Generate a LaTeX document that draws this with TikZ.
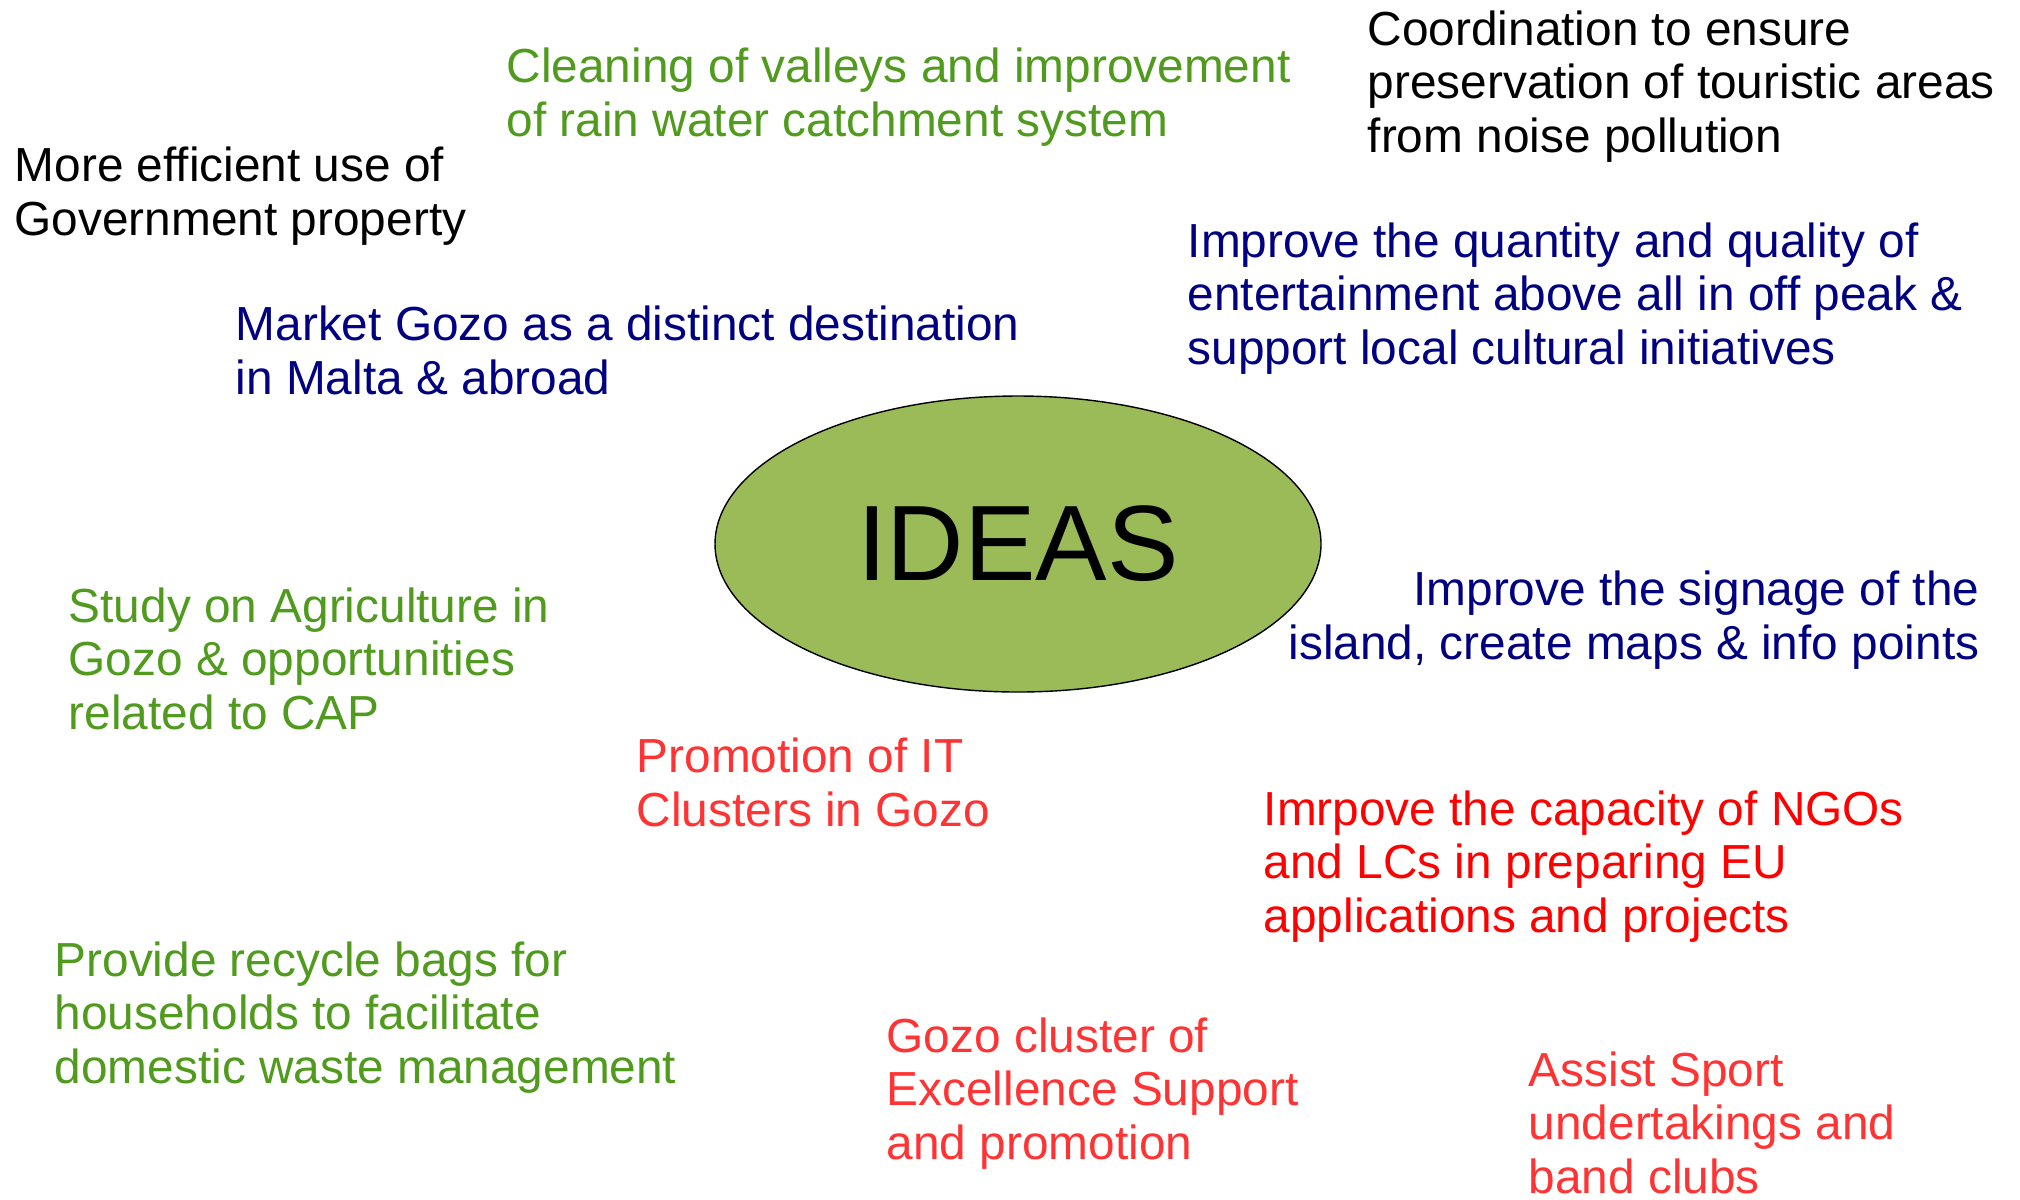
\documentclass[tikz,border=0pt]{standalone}
\usepackage{fontspec}
\setmainfont{Liberation Sans}
\usepackage{tikz}
\usetikzlibrary{shapes.geometric}

\definecolor{ideagreen}{RGB}{80,155,30}
\definecolor{ideanavy}{RGB}{0,0,128}
\definecolor{ideared}{RGB}{255,0,0}
\definecolor{idealight}{RGB}{255,51,51}
\definecolor{ovalfill}{RGB}{155,187,89}

\begin{document}
\begin{tikzpicture}[x=0.1mm, y=-0.1mm,
        idea/.style={inner sep=0pt, align=left, anchor=base west,
            font=\fontsize{13.6}{15.2}\selectfont}]
        % Fix the page to the size of the reference
        \useasboundingbox (0,0) rectangle (2020,1199);
        
        % Draw the central oval
        \node[ellipse, draw=black, fill=ovalfill, minimum width=60.6mm, minimum height=29.6mm,
            inner sep=0pt, font=\fontsize{30.5}{36}\selectfont] (ideas) at (1018,544) {IDEAS};
        
        % Ideas above the oval (placed by the baseline of their last line)
        \node[idea] (property) at (14,235) {More efficient use of\\Government property};
        \node[idea, text=ideagreen] (valleys) at (506,136) {Cleaning of valleys and improvement\\of rain water catchment system};
        \node[idea] (noise) at (1367,152) {Coordination to ensure\\preservation of touristic areas\\from noise pollution};
        \node[idea, text=ideanavy] (entertain) at (1187,364) {Improve the quantity and quality of\\entertainment above all in off peak \&\\support local cultural initiatives};
        \node[idea, text=ideanavy] (market) at (235,394) {Market Gozo as a distinct destination\\in Malta \& abroad};
        
        % Ideas beside and below the oval
        \node[idea, text=ideanavy, align=right, anchor=base east] (signage) at (1980,659) {Improve the signage of the\\island, create maps \& info points};
        \node[idea, text=ideagreen] (agri) at (68,729) {Study on Agriculture in\\Gozo \& opportunities\\related to CAP};
        \node[idea, text=idealight] (itclusters) at (636,826) {Promotion of IT\\Clusters in Gozo};
        \node[idea, text=ideared] (ngos) at (1263,932) {Imrpove the capacity of NGOs\\and LCs in preparing EU\\applications and projects};
        \node[idea, text=ideagreen] (recycle) at (54,1083) {Provide recycle bags for\\households to facilitate\\domestic waste management};
        \node[idea, text=idealight] (excellence) at (886,1159) {Gozo cluster of\\Excellence Support\\and promotion};
        \node[idea, text=idealight] (sport) at (1528,1193) {Assist Sport\\undertakings and\\band clubs};
    \end{tikzpicture}
\end{document}
